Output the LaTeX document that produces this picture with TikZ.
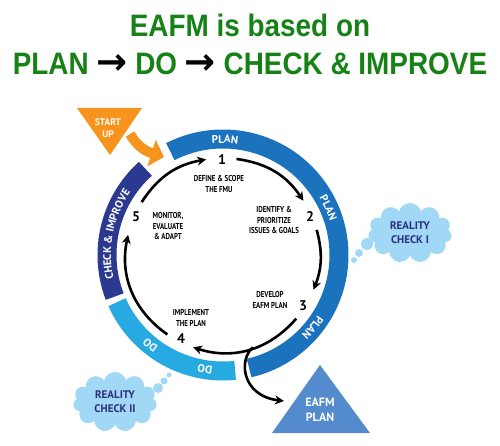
\documentclass[tikz,border=0pt]{standalone}
\usepackage{fontspec}
\setmainfont{PT Sans}
\newfontfamily\titlefont[FakeStretch=0.9]{Liberation Sans}
\newfontfamily\arrowfont{DejaVu Sans}
\newfontfamily\stepfont[FakeStretch=0.8]{PT Sans}
\usetikzlibrary{arrows.meta,positioning,calc,shapes.symbols,decorations.text}

\definecolor{titlegreen}{RGB}{22,130,22}
\definecolor{planblue}{RGB}{27,115,190}
\definecolor{doblue}{RGB}{39,170,225}
\definecolor{checkblue}{RGB}{43,57,144}
\definecolor{startorange}{RGB}{247,148,29}
\definecolor{cloudblue}{RGB}{160,216,245}
\definecolor{cloudtext}{RGB}{43,47,126}
\definecolor{eafmblue}{RGB}{84,139,204}

\newcommand{\nextstep}{{\arrowfont\bfseries\fontsize{37}{31}\selectfont\color{black}→}}

\begin{document}
\begin{tikzpicture}[
      x=1pt, y=1pt,
      >={Stealth[length=9pt,width=9pt]},
      title/.style    ={font=\titlefont\bfseries\fontsize{31}{31}\selectfont,
                        text=titlegreen, inner sep=0pt},
      band/.style     ={line width=19pt},
      flow/.style     ={->, line width=2.6pt},
      steptext/.style ={font=\stepfont\bfseries\fontsize{8.6}{10.5}\selectfont,
                        align=center, inner sep=0pt},
      num/.style      ={font=\bfseries\fontsize{14}{14}\selectfont, inner sep=0pt},
      bandlabel/.style={decorate, decoration={text along path, text align=center,
                        text color=white}},
      cloudbox/.style ={cloud, cloud puffs=11, aspect=1.4, fill=cloudblue,
                        minimum width=84pt, minimum height=60pt, inner sep=0pt,
                        align=center, text=cloudtext,
                        font=\bfseries\fontsize{11}{14}\selectfont},
      bubble/.style   ={circle, fill=cloudblue, inner sep=0pt},
      tritext/.style  ={text=white, align=center, inner sep=0pt}
    ]

    \useasboundingbox (0,0) rectangle (500,-446);

    % heading
    \node[title] (head) at (250,-25) {EAFM is based on};
    \node[title] (cycle) at (250,-64)
          {PLAN \nextstep{} DO \nextstep{} CHECK \& IMPROVE};

    % ring
    \coordinate (C) at (223,-255);
    \draw[band, planblue]  ($(C)+(117:116)$) arc[start angle=117, end angle=-77, radius=116];
    \draw[band, doblue]    ($(C)+(-84:116)$) arc[start angle=-84, end angle=-156, radius=116];
    \draw[band, checkblue] ($(C)+(201:116)$) arc[start angle=201, end angle=132, radius=116];

    \path[bandlabel, decoration={text={|\bfseries\fontsize{11}{11}\selectfont|PLAN}}]
          ($(C)+(110:112)$) arc[start angle=110, end angle=68, radius=112];
    \path[bandlabel, decoration={text={|\bfseries\fontsize{11}{11}\selectfont|PLAN}}]
          ($(C)+(45:112)$) arc[start angle=45, end angle=3, radius=112];
    \path[bandlabel, decoration={text={|\bfseries\fontsize{11}{11}\selectfont|PLAN}}]
          ($(C)+(-18:112)$) arc[start angle=-18, end angle=-60, radius=112];
    \path[bandlabel, decoration={text={|\bfseries\fontsize{11}{11}\selectfont|DO}}]
          ($(C)+(-110:112)$) arc[start angle=-110, end angle=-148, radius=112];
    \path[bandlabel, decoration={text={|\bfseries\fontsize{11}{11}\selectfont|DO}}]
          ($(C)+(-80:112)$) arc[start angle=-80, end angle=-118, radius=112];
    \path[bandlabel, decoration={text={|\bfseries\fontsize{11}{11}\selectfont|CHECK {\&} IMPROVE}}]
          ($(C)+(200:112)$) arc[start angle=200, end angle=138, radius=112];

    % steps
    \node[num] (n1) at (222,-160) {1};
    \node[num] (n2) at (310,-217) {2};
    \node[num] (n3) at (303,-306) {3};
    \node[num] (n4) at (181,-339) {4};
    \node[num] (n5) at (136,-217) {5};

    \node[steptext] (define)    at (219,-184) {DEFINE \& SCOPE\\THE FMU};
    \node[steptext] (identify)  at (274,-220) {IDENTIFY \&\\PRIORITIZE\\ISSUES \& GOALS};
    \node[steptext] (develop)   at (270,-300) {DEVELOP\\EAFM PLAN};
    \node[steptext] (implement) at (191,-318) {IMPLEMENT\\THE PLAN};
    \node[steptext] (monitor)   at (168,-226) {MONITOR,\\EVALUATE\\\& ADAPT};

    % arrows between steps
    \foreach \nm/\ang in {a1/82, b1/34, a2/15, b2/-21, a3/-41, b3/-108,
                          a4/-125, b4/-192, a5/147, b5/100, fork/-72}
      \coordinate (\nm) at ($(C)+(\ang:97)$);

    \draw[flow] (a1) to[bend left=24] (b1);
    \draw[flow] (a2) to[bend left=18] (b2);
    \draw[flow] (a3) to[bend left=33.5] (b3);
    \draw[flow] (a4) to[bend left=33.5] (b4);
    \draw[flow] (a5) to[bend left=23.5] (b5);

    % start up
    \fill[startorange] (77,-108) -- (142,-108) -- (110,-155) -- cycle;
    \node[tritext, font=\bfseries\fontsize{9.5}{12}\selectfont] (start) at (108,-128) {START\\UP};
    \coordinate (start_in) at (164,-157);
    \draw[startorange, line width=10pt, -{Triangle[length=13pt,width=27pt]}]
          (130,-134) .. controls (137,-146) and (145,-151) .. (start_in);

    % eafm plan
    \fill[eafmblue] (320,-365) -- (370,-433) -- (272,-433) -- cycle;
    \node[tritext, font=\bfseries\fontsize{12}{14.5}\selectfont] (plan) at (320,-410) {EAFM\\PLAN};
    \coordinate (plan_in) at (284,-401);
    \draw[flow] (fork) .. controls (238,-360) and (242,-396) .. (plan_in);

    % reality checks
    \node[cloudbox] (check1) at (410,-233) {REALITY\\CHECK I};
    \node[bubble, minimum size=12pt] (check1a) at (367,-244) {};
    \node[bubble, minimum size=8pt]  (check1b) at (359,-253) {};
    \node[bubble, minimum size=6pt]  (check1c) at (354,-260) {};

    \node[cloudbox] (check2) at (115,-402) {REALITY\\CHECK II};
    \node[bubble, minimum size=10pt] (check2a) at (158,-388) {};
    \node[bubble, minimum size=7pt]  (check2b) at (164,-381) {};
    \node[bubble, minimum size=5pt]  (check2c) at (169,-375) {};
\end{tikzpicture}
\end{document}
